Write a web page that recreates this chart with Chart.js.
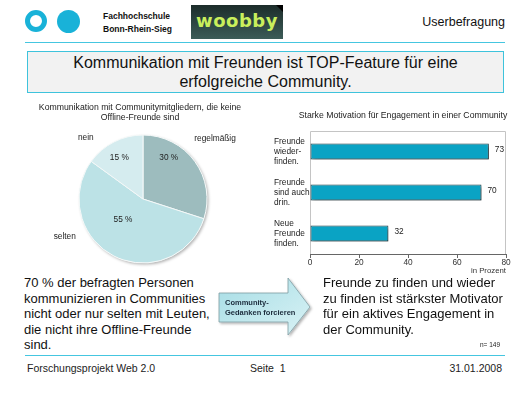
<!DOCTYPE html>
<html>
<head>
<meta charset="utf-8">
<script src="https://cdn.jsdelivr.net/npm/chart.js@4.4.0/dist/chart.umd.min.js"></script>
<style>
  body { margin:0; width:525px; height:394px; background:#fff; position:relative; overflow:hidden;
         font-family:"Liberation Sans", Arial, sans-serif; color:#111; }
  .abs { position:absolute; }
  .ring { left:25px; top:10px; width:22px; height:22px; box-sizing:border-box; border:5px solid #19b2d8; border-radius:50%; }
  .dot { left:57px; top:10px; width:23px; height:23px; background:#19b2d8; border-radius:50%; }
  .fh { left:103px; top:10px; font-size:8.5px; font-weight:bold; line-height:13px; color:#111; }
  .logo { left:191px; top:5px; width:92px; height:34px; background:linear-gradient(#1c2c2a, #3c5c58);
          font-family:"DejaVu Sans", sans-serif; font-weight:bold; font-size:18px; color:#c9ef5c;
          text-align:center; line-height:32px; letter-spacing:0.5px; }
  .logo:after { content:""; position:absolute; right:0; top:0; border-top:7px solid #000; border-left:7px solid transparent; }
  .user { right:20px; top:15px; font-size:12.5px; }
  .rule { left:25px; width:480px; height:1.5px; background:#45c6e0; }
  .headline { left:27px; top:51px; width:477px; height:42px; box-sizing:border-box; background:#f2f2f2;
              border:1.5px solid #3ec3dc; text-align:center; font-size:16px; line-height:19px; padding-top:1px; }
  .ctitle { font-size:8.7px; line-height:10px; text-align:center; color:#222; }
  .body { font-size:13px; line-height:15.5px; color:#111; }
  .foot { top:362px; font-size:10.5px; color:#222; }
</style>
</head>
<body>
<div class="abs ring"></div>
<div class="abs dot"></div>
<div class="abs fh">Fachhochschule<br>Bonn-Rhein-Sieg</div>
<div class="abs logo">woobby</div>
<div class="abs user">Userbefragung</div>
<div class="abs rule" style="top:41.5px"></div>
<div class="abs headline">Kommunikation mit Freunden ist TOP-Feature für eine<br>erfolgreiche Community.</div>

<canvas id="pie" class="abs" style="left:20px;top:95px" width="240" height="175"></canvas>
<canvas id="bar" class="abs" style="left:262px;top:100px" width="263" height="180"></canvas>
<div class="abs ctitle" style="left:20px;top:102px;width:240px">Kommunikation mit Communitymitgliedern, die keine<br>Offline-Freunde sind</div>
<div class="abs ctitle" style="left:283px;top:110px;width:240px">Starke Motivation für Engagement in einer Community</div>

<div class="abs body" style="left:24px;top:275px">70 % der befragten Personen<br>kommunizieren in Communities<br>nicht oder nur selten mit Leuten,<br>die nicht ihre Offline-Freunde<br>sind.</div>

<svg class="abs" style="left:210px;top:270px" width="110" height="75">
  <defs>
    <linearGradient id="ag" x1="0" y1="0" x2="1" y2="1">
      <stop offset="0" stop-color="#a6dde5"/>
      <stop offset="1" stop-color="#d9f2f5"/>
    </linearGradient>
    <filter id="sh" x="-10%" y="-10%" width="130%" height="130%">
      <feDropShadow dx="1.5" dy="1.5" stdDeviation="1" flood-color="#000" flood-opacity="0.3"/>
    </filter>
  </defs>
  <polygon points="9,23 78,23 78,8 100,37 78,65 78,52 9,52" fill="url(#ag)" stroke="#7d9ca2" stroke-width="0.8" filter="url(#sh)"/>
</svg>
<div class="abs" style="left:225px;top:298px;font-size:7.5px;font-weight:bold;line-height:10px;color:#1b2b3b">Community-<br>Gedanken forcieren</div>

<div class="abs body" style="left:323px;top:275px">Freunde zu finden und wieder<br>zu finden ist stärkster Motivator<br>für ein aktives Engagement in<br>der Community.</div>
<div class="abs" style="left:480px;top:341px;font-size:6.5px;color:#222">n= 149</div>

<div class="abs rule" style="top:354.5px"></div>
<div class="abs foot" style="left:27px">Forschungsprojekt Web 2.0</div>
<div class="abs foot" style="left:250px">Seite&nbsp; 1</div>
<div class="abs foot" style="right:23px">31.01.2008</div>

<script>
// pie: contact with community members who are not offline friends
const pieCategories = ['regelmäßig', 'selten', 'nein'];
const pieValues = [30, 55, 15];
const pieColors = ['#9dbcbe', '#bce2e6', '#d5ecef'];

// bar: strong motivation for engagement
const motivCategories = [['Freunde', 'wieder-', 'finden.'], ['Freunde', 'sind auch', 'drin.'], ['Neue', 'Freunde', 'finden.']];
const motivValues = [73, 70, 32];
const motivTicks = [0, 20, 40, 60, 80];

const FONT = '"Liberation Sans", Arial, sans-serif';

// label placement relative to each slice's mid angle (deg shift, radius factor)
const pctShift = [-22, 17, -3], pctDist = [0.76, 0.45, 0.74];
const nameShift = [-4, 37, -16], nameDist = [1.47, 1.36, 1.31];

const pieDeco = {
  id: 'pieDeco',
  beforeDatasetsDraw(chart) {
    const a = chart.getDatasetMeta(0).data[0];
    const ctx = chart.ctx;
    ctx.save();
    ctx.shadowColor = 'rgba(0,0,0,0.3)';
    ctx.shadowBlur = 3;
    ctx.shadowOffsetX = 1.5;
    ctx.shadowOffsetY = 1.5;
    ctx.beginPath();
    ctx.arc(a.x, a.y, a.outerRadius, 0, Math.PI * 2);
    ctx.fillStyle = '#fff';
    ctx.fill();
    ctx.restore();
  },
  afterDatasetsDraw(chart) {
    const ctx = chart.ctx;
    ctx.save();
    ctx.font = '8.3px ' + FONT;
    ctx.fillStyle = '#222';
    ctx.textAlign = 'center';
    ctx.textBaseline = 'middle';
    chart.getDatasetMeta(0).data.forEach((arc, i) => {
      const mid = (arc.startAngle + arc.endAngle) / 2;
      let ang = mid + pctShift[i] * Math.PI / 180;
      ctx.fillText(pieValues[i] + ' %', arc.x + Math.cos(ang) * arc.outerRadius * pctDist[i],
                   arc.y + Math.sin(ang) * arc.outerRadius * pctDist[i]);
      ang = mid + nameShift[i] * Math.PI / 180;
      ctx.fillText(pieCategories[i], arc.x + Math.cos(ang) * arc.outerRadius * nameDist[i],
                   arc.y + Math.sin(ang) * arc.outerRadius * nameDist[i]);
    });
    ctx.restore();
  }
};

new Chart(document.getElementById('pie'), {
  type: 'pie',
  data: {
    labels: pieCategories,
    datasets: [{
      data: pieValues,
      backgroundColor: pieColors,
      borderColor: '#f4f8f8',
      borderWidth: 1
    }]
  },
  options: {
    responsive: false,
    animation: false,
    radius: 64,
    layout: { padding: { left: 59, right: 53, top: 40, bottom: 7 } },
    plugins: { legend: { display: false }, tooltip: { enabled: false } }
  },
  plugins: [pieDeco]
});

const barDeco = {
  id: 'barDeco',
  beforeDatasetsDraw(chart) {
    const { ctx, chartArea: c } = chart;
    ctx.save();
    ctx.strokeStyle = '#c4c4c4';
    ctx.lineWidth = 1;
    ctx.beginPath();
    ctx.moveTo(c.left + 0.5, c.bottom);
    ctx.lineTo(c.left + 0.5, c.top + 0.5);
    ctx.lineTo(c.right - 0.5, c.top + 0.5);
    ctx.lineTo(c.right - 0.5, c.bottom);
    ctx.stroke();
    ctx.restore();
    ctx.save();
    ctx.shadowColor = 'rgba(0,0,0,0.35)';
    ctx.shadowBlur = 2;
    ctx.shadowOffsetX = 2;
    ctx.shadowOffsetY = 2;
  },
  afterDatasetsDraw(chart) {
    const ctx = chart.ctx;
    ctx.restore();
    ctx.save();
    ctx.font = '8.3px ' + FONT;
    ctx.fillStyle = '#222';
    ctx.textAlign = 'left';
    ctx.textBaseline = 'middle';
    chart.getDatasetMeta(0).data.forEach((bar, i) => {
      ctx.fillText(String(motivValues[i]), bar.x + 6, bar.y - 2);
    });
    ctx.restore();
  }
};

new Chart(document.getElementById('bar'), {
  type: 'bar',
  data: {
    labels: motivCategories,
    datasets: [{
      data: motivValues,
      backgroundColor: '#0aa3c4',
      borderColor: '#1e3a42',
      borderWidth: 1,
      borderSkipped: false,
      barPercentage: 0.39,
      categoryPercentage: 1
    }]
  },
  options: {
    indexAxis: 'y',
    responsive: false,
    animation: false,
    layout: { padding: { left: 12, top: 31, right: 19, bottom: 0 } },
    scales: {
      x: {
        min: motivTicks[0],
        max: motivTicks[motivTicks.length - 1],
        afterBuildTicks(s) { s.ticks = motivTicks.map(v => ({ value: v })); },
        afterFit(s) { s.height = 26; },
        grid: { drawOnChartArea: false, drawTicks: true, tickLength: 4, color: '#666' },
        border: { display: true, color: '#666', width: 1 },
        ticks: { padding: 0, font: { size: 8.3, family: FONT }, color: '#333', maxRotation: 0 },
        title: { display: true, text: 'in Prozent', align: 'end', color: '#333',
                 font: { size: 7.8, family: FONT }, padding: { top: 0, bottom: 4 } }
      },
      y: {
        afterFit(s) { s.width = 36; },
        grid: { display: false },
        border: { display: false },
        ticks: { crossAlign: 'far', font: { size: 8.3, family: FONT }, color: '#222' }
      }
    },
    plugins: { legend: { display: false }, tooltip: { enabled: false } }
  },
  plugins: [barDeco]
});
</script>
</body>
</html>
